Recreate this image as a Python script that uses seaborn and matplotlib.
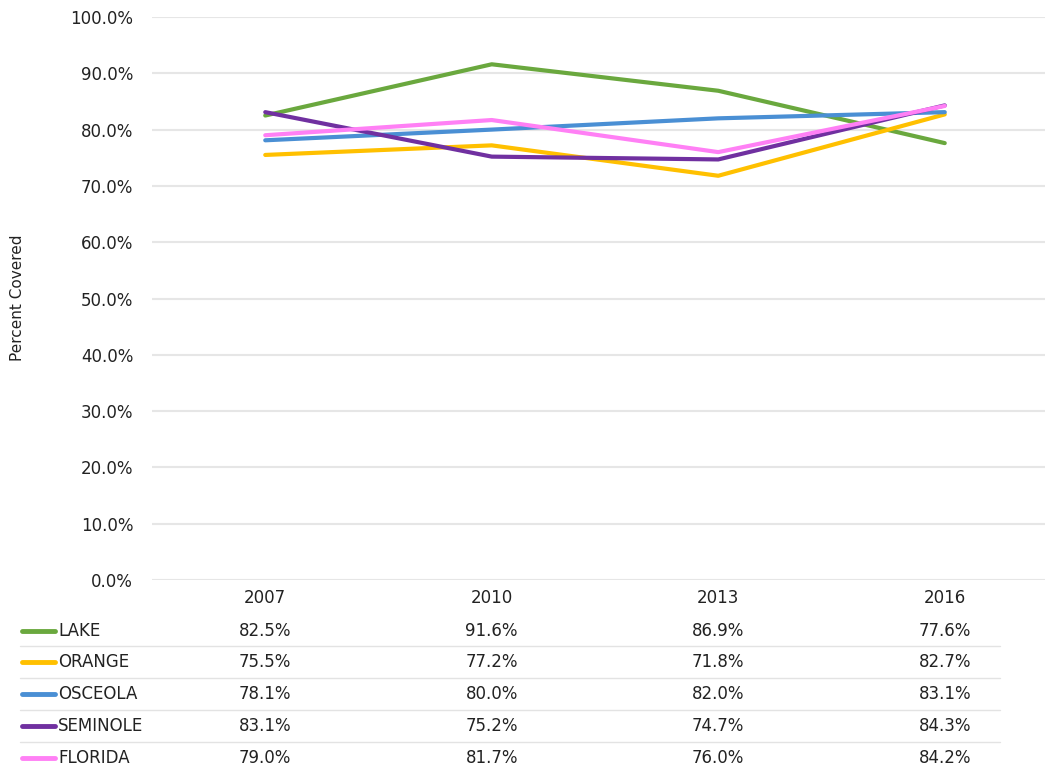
import matplotlib.pyplot as plt
import matplotlib.transforms as mtransforms
from matplotlib.lines import Line2D
from matplotlib.ticker import PercentFormatter
import pandas as pd
import seaborn as sns

# === data ===
years = ["2007", "2010", "2013", "2016"]
series_names = ["LAKE", "ORANGE", "OSCEOLA", "SEMINOLE", "FLORIDA"]
lake = [82.5, 91.6, 86.9, 77.6]
orange = [75.5, 77.2, 71.8, 82.7]
osceola = [78.1, 80.0, 82.0, 83.1]
seminole = [83.1, 75.2, 74.7, 84.3]
florida = [79.0, 81.7, 76.0, 84.2]
colors = ["#6aa83e", "#ffc000", "#4a8fd4", "#7030a0", "#ff80f5"]

values = [lake, orange, osceola, seminole, florida]
rows = []
for name, vals in zip(series_names, values):
    for i, v in enumerate(vals):
        rows.append({"pos": i, "year": years[i], "county": name, "pct": v})
df = pd.DataFrame(rows)

sns.set_theme(style="white")
plt.rcParams['font.family'] = ['DejaVu Sans']

W, H = 1045, 771
fig = plt.figure(figsize=(W / 100, H / 100), dpi=100)
ax = fig.add_axes([152 / W, 1 - 580 / H, (1058 - 152) / W, (580 - 17) / H])

sns.lineplot(
    data=df, x="pos", y="pct", hue="county", hue_order=series_names,
    palette=colors, linewidth=3, legend=False, ax=ax
)

ax.set_xlim(-0.5, 3.5)
ax.set_ylim(0, 100)
ax.set_yticks(range(0, 101, 10))
ax.yaxis.set_major_formatter(PercentFormatter(decimals=1))
ax.tick_params(axis='y', labelsize=12, colors='#222222', length=0, pad=13.5)
ax.set_xticks([])
ax.set_xlabel("")
ax.set_ylabel("")
ax.grid(axis='y', color='#e6e6e6', linewidth=1.5)
ax.set_axisbelow(True)
for s in ax.spines.values():
    s.set_visible(False)

fig.text(18 / W, 1 - 298 / H, "Percent Covered", rotation=90,
         ha='center', va='center', fontsize=11, color='#222222')

# === data table below the chart ===
trans = mtransforms.blended_transform_factory(ax.transData, fig.transFigure)
for i, y in enumerate(years):
    ax.text(i, 1 - 598 / H, y, transform=trans, ha='center', va='center',
            fontsize=12, color='#222222', clip_on=False)

row_y = [631, 662, 694, 726, 758]
for r, (name, vals, c) in enumerate(zip(series_names, values, colors)):
    yy = 1 - row_y[r] / H
    fig.add_artist(Line2D([22 / W, 55 / W], [yy, yy], color=c, linewidth=3.5,
                          solid_capstyle='round'))
    fig.text(58 / W, yy, name, ha='left', va='center', fontsize=12, color='#222222')
    for i, v in enumerate(vals):
        ax.text(i, yy, f"{v:.1f}%", transform=trans, ha='center', va='center',
                fontsize=12, color='#222222', clip_on=False)

for sep in [646, 678, 710, 742]:
    yy = 1 - sep / H
    fig.add_artist(Line2D([20 / W, 1000 / W], [yy, yy], color='#e3e3e3', linewidth=1))

fig.savefig("out.png", dpi=100)
plt.close(fig)
